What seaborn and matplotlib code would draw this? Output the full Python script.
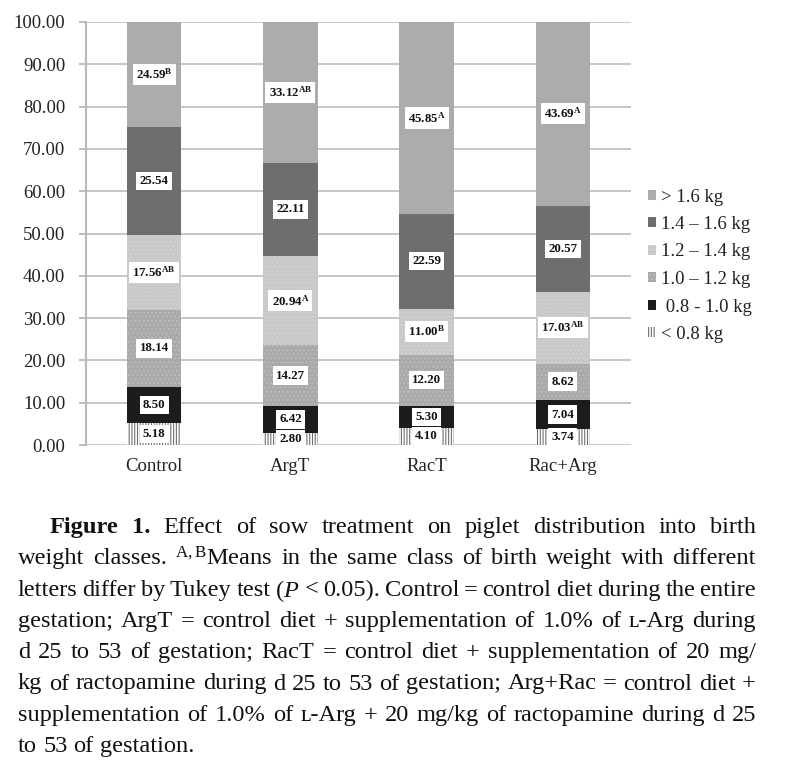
import matplotlib
matplotlib.use("Agg")
import matplotlib.pyplot as plt
import seaborn as sns
import numpy as np
import pandas as pd
from matplotlib.patches import Patch

# ---------------- data ----------------
categories = ["Control", "ArgT", "RacT", "Rac+Arg"]
class_labels = ["< 0.8 kg", " 0.8 - 1.0 kg", "1.0 \u2013 1.2 kg", "1.2 \u2013 1.4 kg",
                "1.4 \u2013 1.6 kg", "> 1.6 kg"]
lt_08 = [5.18, 2.80, 4.10, 3.74]
w_08_10 = [8.50, 6.42, 5.30, 7.04]
w_10_12 = [18.14, 14.27, 12.20, 8.62]
w_12_14 = [17.56, 20.94, 11.00, 17.03]
w_14_16 = [25.54, 22.11, 22.59, 20.57]
gt_16 = [24.59, 33.12, 45.85, 43.69]
sup_12_14 = ["AB", "A", "B", "AB"]
sup_gt_16 = ["B", "AB", "A", "A"]
no_sup = ["", "", "", ""]
yticks = np.arange(0, 101, 10)

series = [lt_08, w_08_10, w_10_12, w_12_14, w_14_16, gt_16]
sups = [no_sup, no_sup, no_sup, sup_12_14, no_sup, sup_gt_16]

styles = [
    dict(facecolor="white", edgecolor="#707070", hatch="||||||"),
    dict(facecolor="#1c1c1c", edgecolor="#3a3a3a", hatch=""),
    dict(facecolor="#a9a9a9", edgecolor="#bdbdbd", hatch="...."),
    dict(facecolor="#c8c8c8", edgecolor="#d2d2d2", hatch="...."),
    dict(facecolor="#6e6e6e", edgecolor="#6e6e6e", hatch=""),
    dict(facecolor="#acacac", edgecolor="#acacac", hatch=""),
]

# ---------------- style ----------------
sns.set_theme(style="white")
plt.rcParams["font.family"] = ["Liberation Serif", "DejaVu Serif"]
plt.rcParams["mathtext.fontset"] = "custom"
plt.rcParams["mathtext.rm"] = "Liberation Serif"
plt.rcParams["mathtext.it"] = "Liberation Serif:italic"
plt.rcParams["mathtext.bf"] = "Liberation Serif:bold"
plt.rcParams["hatch.linewidth"] = 0.8

W, H = 793, 765
fig = plt.figure(figsize=(W / 100, H / 100), dpi=100)
fig.patch.set_facecolor("white")
ax = fig.add_axes([86 / W, 1 - 445 / H, 545 / W, 423 / H])

# 100 % stacked columns (heights normalised to each column total)
totals = np.sum(np.array(series), axis=0)
df = pd.DataFrame({"cat": categories})
bottom = np.zeros(len(categories))
for vals, st in zip(series, styles):
    h = np.array(vals) / totals * 100
    sns.barplot(x=df["cat"], y=h, bottom=bottom, color=st["facecolor"],
                saturation=1, width=0.4, ax=ax, linewidth=0,
                edgecolor=st["edgecolor"], hatch=st["hatch"] if st["hatch"] else None)
    bottom = bottom + h

# value labels
bottom = np.zeros(len(categories))
for vals, sp in zip(series, sups):
    h = np.array(vals) / totals * 100
    for i, (v, s) in enumerate(zip(vals, sp)):
        mid = bottom[i] + h[i] / 2
        lab = f"{v:.2f}"
        if s:
            lab += r"$^{\mathbf{" + s + "}}$"
        ax.text(i, mid, lab, ha="center", va="center", fontsize=9.3,
                fontweight="bold", color="#111111",
                bbox=dict(boxstyle="square,pad=0.25", fc="white", ec="none"),
                zorder=5)
    bottom = bottom + h

ax.set_xlim(-0.5, 3.5)
ax.set_ylim(0, 100)
ax.set_yticks(yticks)
ax.set_yticklabels([f"{t:.2f}" for t in yticks], fontsize=13.5, color="#222222")
ax.set_xticks(range(len(categories)))
ax.set_xticklabels(categories, fontsize=13.5, color="#222222")
ax.set_xlabel("")
ax.set_ylabel("")
ax.yaxis.grid(True, color="#c3c3c3", linewidth=1.3)
ax.xaxis.grid(False)
ax.set_axisbelow(True)
for s in ["top", "right", "bottom"]:
    ax.spines[s].set_visible(False)
ax.spines["left"].set_color("#b8b8b8")
ax.spines["left"].set_linewidth(1.5)
ax.tick_params(axis="y", length=5, width=1.3, color="#b8b8b8", pad=10, left=True)
ax.tick_params(axis="x", length=0, pad=9)

# legend (top entry = heaviest class)
handles = []
for lab, st in zip(class_labels[::-1], styles[::-1]):
    handles.append(Patch(facecolor=st["facecolor"], edgecolor=st["edgecolor"],
                         hatch=st["hatch"] if st["hatch"] else None, linewidth=0,
                         label=lab))
leg = fig.legend(handles=handles, loc="upper left",
                 bbox_to_anchor=(640 / W, 1 - 181 / H), frameon=False,
                 fontsize=13.5, handlelength=0.45, handleheight=0.45,
                 handletextpad=0.25, labelspacing=0.56, borderaxespad=0)
for t in leg.get_texts():
    t.set_color("#222222")

# ---------------- caption ----------------
caption_lines = [
    [("Figure 1.", "bold"), ("Effect of sow treatment on piglet distribution into birth", "normal")],
    [("weight classes. $^{\\mathrm{A,B}}$Means in the same class of birth weight with different", "normal")],
    [("letters differ by Tukey test ($\\mathit{P}$ < 0.05). Control = control diet during the entire", "normal")],
    [("gestation; ArgT = control diet + supplementation of 1.0% of \u029f-Arg during", "normal")],
    [("d 25 to 53 of gestation; RacT = control diet + supplementation of 20 mg/", "normal")],
    [("kg of ractopamine during d 25 to 53 of gestation; Arg+Rac = control diet +", "normal")],
    [("supplementation of 1.0% of \u029f-Arg + 20 mg/kg of ractopamine during d 25", "normal")],
    [("to 53 of gestation.", "normal")],
]
x_left, x_right, indent = 18, 756, 50
y0, dy = 525, 31.3
renderer = fig.canvas.get_renderer()


def words_of(line):
    out = []
    for txt, wt in line:
        for w in txt.split(" "):
            if w:
                out.append((w, wt))
    return out


def measure(fs):
    res = []
    for li, line in enumerate(caption_lines):
        ws = words_of(line)
        tot = 0
        for w, wt in ws:
            t = fig.text(0, 0, w, fontsize=fs, fontweight=wt)
            tot += t.get_window_extent(renderer).width
            t.remove()
        res.append((ws, tot))
    return res


fs0 = 14.5
sp = fig.text(0, 0, "a a", fontsize=fs0)
w_aa = sp.get_window_extent(renderer).width
sp.remove()
sa = fig.text(0, 0, "aa", fontsize=fs0)
space_w = w_aa - sa.get_window_extent(renderer).width
sa.remove()
m = measure(fs0)
ratio = 1e9
for li, (ws, tot) in enumerate(m[:-1]):
    start = indent if li == 0 else x_left
    natural = tot + space_w * (len(ws) - 1) * 0.8
    ratio = min(ratio, (x_right - start) / natural)
fs = fs0 * min(ratio, 1.25)
space_w *= fs / fs0
m = measure(fs)

for li, (ws, tot) in enumerate(m):
    start = indent if li == 0 else x_left
    if li < len(m) - 1 and len(ws) > 1:
        gap = (x_right - start - tot) / (len(ws) - 1)
    else:
        gap = space_w
    x = start
    y = y0 + li * dy
    for w, wt in ws:
        t = fig.text(x / W, 1 - y / H, w, fontsize=fs, fontweight=wt,
                     va="center_baseline", ha="left", color="#111111")
        x += t.get_window_extent(renderer).width + gap

fig.savefig("out.png", dpi=100, facecolor="white")
